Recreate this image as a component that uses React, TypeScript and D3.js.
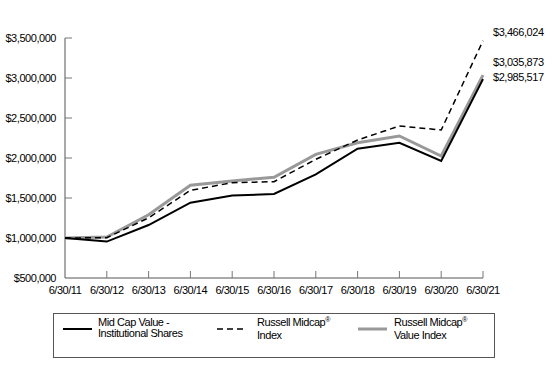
import React from "react";
import * as d3 from "d3";

const years = ["6/30/11","6/30/12","6/30/13","6/30/14","6/30/15","6/30/16","6/30/17","6/30/18","6/30/19","6/30/20","6/30/21"];
const midCapValue = [1000000, 955000, 1162000, 1441000, 1530000, 1550000, 1796000, 2116000, 2191000, 1962000, 2985517];
const russellMidcap = [1000000, 1004000, 1252000, 1596000, 1691000, 1704000, 1983000, 2225000, 2400000, 2350000, 3466024];
const russellMidcapValue = [1000000, 1012000, 1290000, 1659000, 1712000, 1760000, 2046000, 2191000, 2275000, 2025000, 3035873];
const yTicks = [500000, 1000000, 1500000, 2000000, 2500000, 3000000, 3500000];
const endLabels = ["$3,466,024", "$3,035,873", "$2,985,517"];

const FONT = "'Liberation Sans', Arial, sans-serif";

export default function App() {
  const W = 555, H = 375;
  const x = d3.scalePoint<string>().domain(years).range([65, 483]);
  const y = d3.scaleLinear().domain([500000, 3500000]).range([278, 38]);
  const fmt = (v: number) => "$" + d3.format(",")(v);
  const line = d3.line<number>().x((_, i) => x(years[i])!).y((v) => y(v));
  const series = [
    { data: russellMidcapValue, stroke: "#999", width: 3, dash: undefined },
    { data: russellMidcap, stroke: "#000", width: 1.5, dash: "6,4" },
    { data: midCapValue, stroke: "#000", width: 2, dash: undefined },
  ];
  const lastX = x(years[years.length - 1])!;
  const txt = { fontFamily: FONT, fontSize: 11, letterSpacing: -0.45, fill: "#000" } as const;
  return (
    <svg width={W} height={H} style={{ position: "absolute", left: 0, top: 0 }}>
      <rect width={W} height={H} fill="#fff" />
      <line x1={65} x2={65} y1={y(3500000)} y2={y(500000)} stroke="#555" strokeWidth={1} />
      <line x1={65} x2={lastX} y1={y(500000)} y2={y(500000)} stroke="#555" strokeWidth={1} />
      {yTicks.map((t) => (
        <g key={t}>
          {t > 500000 && <line x1={65} x2={72} y1={y(t)} y2={y(t)} stroke="#777" />}
          <text x={56} y={y(t)} dy="0.35em" textAnchor="end" {...txt}>{fmt(t)}</text>
        </g>
      ))}
      {years.map((yr, i) => (
        <g key={yr}>
          {i > 0 && <line x1={x(yr)} x2={x(yr)} y1={y(500000)} y2={y(500000) - 7} stroke="#777" />}
          <text x={x(yr)} y={294} textAnchor="middle" {...txt}>{yr}</text>
        </g>
      ))}
      {series.map((s, i) => (
        <path key={i} d={line(s.data)!} fill="none" stroke={s.stroke} strokeWidth={s.width} strokeDasharray={s.dash} strokeLinejoin="miter" />
      ))}
      <text x={493} y={32} dy="0.35em" {...txt}>{endLabels[0]}</text>
      <text x={493} y={62} dy="0.35em" {...txt}>{endLabels[1]}</text>
      <text x={493} y={77} dy="0.35em" {...txt}>{endLabels[2]}</text>
      <rect x={53.5} y={313.5} width={441} height={44} fill="none" stroke="#555" strokeWidth={1} />
      <line x1={63} x2={92} y1={329} y2={329} stroke="#000" strokeWidth={2} />
      <text x={98} y={326} {...txt}>Mid Cap Value  -</text>
      <text x={98} y={337} {...txt}>Institutional Shares</text>
      <line x1={217} x2={243} y1={329} y2={329} stroke="#000" strokeWidth={1.5} strokeDasharray="6,4" />
      <text x={257} y={326} {...txt}>Russell Midcap<tspan fontSize={7} dy={-4}>®</tspan></text>
      <text x={257} y={339} {...txt}>Index</text>
      <line x1={358} x2={387} y1={329} y2={329} stroke="#999" strokeWidth={3} />
      <text x={394} y={326} {...txt}>Russell Midcap<tspan fontSize={7} dy={-4}>®</tspan></text>
      <text x={394} y={339} {...txt}>Value Index</text>
    </svg>
  );
}
